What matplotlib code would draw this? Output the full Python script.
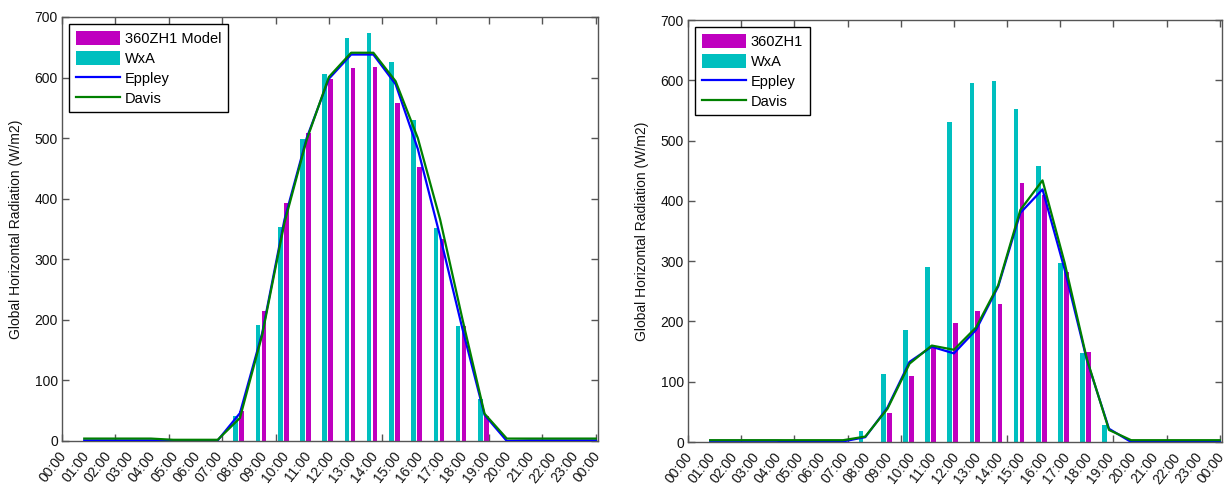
import matplotlib
matplotlib.use("Agg")
import matplotlib.pyplot as plt
import numpy as np

plt.rcParams["font.family"] = ["Liberation Sans", "DejaVu Sans"]

# Hour of day for each hourly record (hour-ending convention)
hours = [1, 2, 3, 4, 5, 6, 7, 8, 9, 10, 11, 12,
         13, 14, 15, 16, 17, 18, 19, 20, 21, 22, 23, 24]

time_labels = ["00:00", "01:00", "02:00", "03:00", "04:00", "05:00", "06:00",
               "07:00", "08:00", "09:00", "10:00", "11:00", "12:00", "13:00",
               "14:00", "15:00", "16:00", "17:00", "18:00", "19:00", "20:00",
               "21:00", "22:00", "23:00", "00:00"]

# Clear day (left panel), W/m2
model_clear = [0, 0, 0, 0, 0, 0, 0, 50, 215, 393, 509, 598,
               615, 617, 558, 453, 333, 190, 42, 0, 0, 0, 0, 0]
wxa_clear = [0, 0, 0, 0, 0, 0, 0, 42, 192, 354, 499, 606,
             666, 673, 625, 530, 352, 190, 69, 0, 0, 0, 0, 0]
eppley_clear = [1, 1, 1, 1, 0.5, 0.5, 1, 46, 178, 365, 500, 598,
                638, 638, 589, 482, 338, 186, 43, 0, 1, 1, 1, 1]
davis_clear = [4, 4, 4, 4, 2, 2, 2, 38, 175, 360, 497, 601,
               641, 641, 594, 500, 366, 202, 45, 4, 4, 4, 4, 4]

# Cloudy day (right panel), W/m2
model_cloudy = [0, 0, 0, 0, 0, 0, 0, 0, 48, 109, 156, 198,
                217, 229, 429, 410, 282, 149, 0, 0, 0, 0, 0, 0]
wxa_cloudy = [0, 0, 0, 0, 0, 0, 0, 19, 112, 185, 291, 531,
              596, 599, 552, 457, 297, 147, 28, 0, 0, 0, 0, 0]
eppley_cloudy = [2, 2, 2, 2, 0.5, 0.5, 1, 8, 57, 133, 158, 147,
                 186, 258, 380, 419, 286, 136, 22, 0, 0, 1.5, 1.5, 1.5]
davis_cloudy = [3, 3, 3, 3, 3, 3, 3, 9, 55, 130, 160, 153,
                190, 260, 385, 434, 297, 138, 20, 3, 3, 3, 3, 3]

MAGENTA = (0.75, 0.0, 0.75)
CYAN = (0.0, 0.75, 0.75)
BLUE = (0.0, 0.0, 1.0)
GREEN = (0.0, 0.5, 0.0)
AXIS_GREY = "#555555"
TEXT = "#111111"

W, H = 1228, 487
fig = plt.figure(figsize=(W / 100, H / 100), dpi=100)
ax_left = fig.add_axes([62 / W, 1 - 441 / H, 536 / W, 424 / H])
ax_right = fig.add_axes([688 / W, 1 - 442 / H, 534 / W, 422 / H])


def draw_panel(ax, model, wxa, eppley, davis, model_name):
    x = np.array(hours, dtype=float)
    h_model = ax.bar(x + 0.08, model, width=0.21, color=MAGENTA,
                     edgecolor="none", label=model_name, zorder=2)
    h_wxa = ax.bar(x - 0.19, wxa, width=0.21, color=CYAN,
                   edgecolor="none", label="WxA", zorder=2)
    h_epp, = ax.plot(x, eppley, color=BLUE, lw=1.6, label="Eppley", zorder=3)
    h_dav, = ax.plot(x, davis, color=GREEN, lw=1.6, label="Davis", zorder=4)

    ax.set_xlim(0, 24)
    ax.set_ylim(0, 700)
    ax.set_yticks(np.arange(0, 701, 100))

    # unlabeled major ticks every tenth of the day, labels on each hour
    ax.set_xticks(np.linspace(0, 24, 11))
    ax.set_xticklabels([])
    ax.set_xticks(np.arange(25) + 0.1, labels=time_labels, minor=True)
    ax.tick_params(axis="both", which="major", direction="in", length=5,
                   width=1, color=AXIS_GREY, top=True, right=True,
                   labelsize=10, labelcolor=TEXT, pad=3)
    ax.tick_params(axis="x", which="minor", length=0, top=False,
                   labelsize=10, labelcolor=TEXT, pad=9)
    for lbl in ax.get_xticklabels(minor=True):
        lbl.set_rotation(52)
        lbl.set_ha("right")
        lbl.set_va("center")
        lbl.set_rotation_mode("anchor")

    for sp in ax.spines.values():
        sp.set_color(AXIS_GREY)
        sp.set_linewidth(1)

    ax.set_ylabel("Global Horizontal Radiation (W/m2)", fontsize=10,
                  color=TEXT)
    ax.yaxis.set_label_coords(-0.073, 0.5)

    leg = ax.legend(handles=[h_model, h_wxa, h_epp, h_dav],
                    loc="upper left", fontsize=10.5, handlelength=3.0,
                    handleheight=1.1, handletextpad=0.35, labelspacing=0.34,
                    borderpad=0.45, borderaxespad=0.5, fancybox=False,
                    framealpha=1, edgecolor="black")
    leg.get_frame().set_linewidth(1)


draw_panel(ax_left, model_clear, wxa_clear, eppley_clear, davis_clear,
           "360ZH1 Model")
draw_panel(ax_right, model_cloudy, wxa_cloudy, eppley_cloudy, davis_cloudy,
           "360ZH1")

fig.savefig("out.png", dpi=100)
